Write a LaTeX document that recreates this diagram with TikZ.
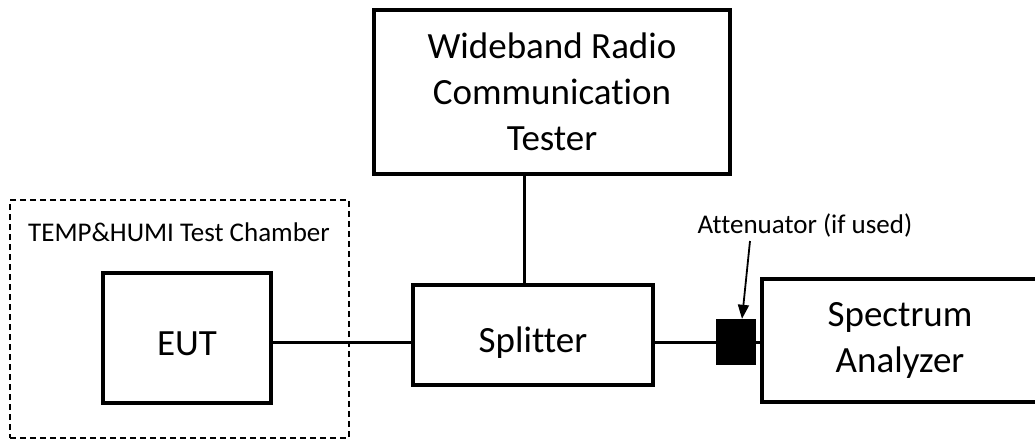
\documentclass[tikz,border=0pt]{standalone}
\usepackage{fontspec}
\setmainfont{Carlito}[Ligatures=NoCommon]
\usetikzlibrary{arrows.meta}
\begin{document}
\begin{tikzpicture}[x=1pt,y=-1pt,
  box/.style={draw,line width=3.5pt,inner sep=0pt,align=center},
  big/.style={font=\fontsize{37}{46}\selectfont},
  oneline/.style={text height=34pt,text depth=0pt},
  wire/.style={line width=3pt},
  chamber/.style={draw,line width=1.6pt,dash pattern=on 6pt off 4pt,inner sep=0pt},
  lbl/.style={font=\fontsize{27}{30}\selectfont,inner sep=0pt}]
\useasboundingbox (0,0) rectangle (1035,439);
\node[chamber,minimum width=339,minimum height=238] (ch) at (179.5,319) {};
\node[lbl,anchor=base] (chl) at (179,241) {TEMP\&HUMI Test Chamber};
\node[box,big,minimum width=356,minimum height=164] (wide) at (552,92) {Wideband Radio\\Communication\\Tester};
\node[box,big,oneline,minimum width=168,minimum height=130] (eut) at (187,338) {EUT};
\node[box,big,oneline,minimum width=240,minimum height=100] (split) at (533,335) {Splitter};
\node[box,big,minimum width=276,minimum height=123] (sa) at (900,340.5) {Spectrum\\Analyzer};
\node[fill=black,minimum width=40,minimum height=46,inner sep=0pt] (att) at (736,342) {};
\node[lbl,anchor=base] (attl) at (805,233) {Attenuator (if used)};
\coordinate (v) at (524,0);
\coordinate (a0) at (750,241);
\draw[wire] (eut.east |- att.center) -- (split.west |- att.center);
\draw[wire] (split.east |- att.center) -- (att.west);
\draw[wire] (att.east) -- (sa.west |- att.center);
\draw[wire] (v |- wide.south) -- (v |- split.north);
\draw[line width=1.8pt,-{Triangle[length=14pt,width=11pt]}] (a0) -- (att.north -| 742,0);
\end{tikzpicture}
\end{document}
